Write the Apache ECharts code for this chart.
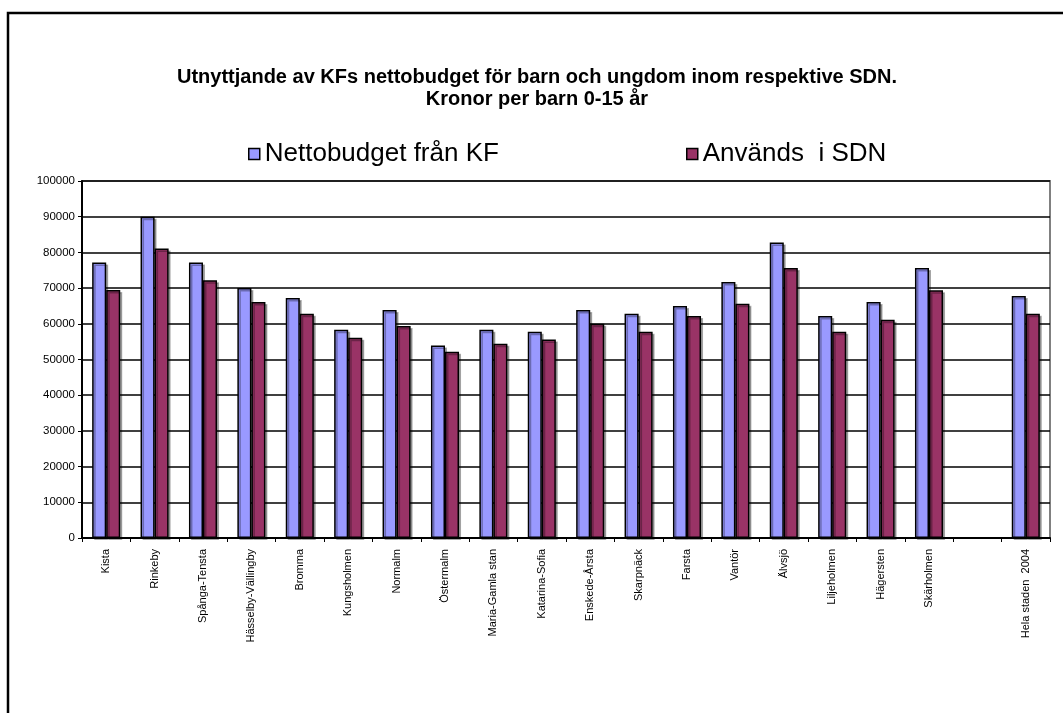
<!DOCTYPE html>
<html>
<head>
<meta charset="utf-8">
<script src="https://cdn.jsdelivr.net/npm/echarts@6/dist/echarts.min.js"></script>
<style>
  html, body { margin: 0; padding: 0; background: #fff; }
  #main { width: 1063px; height: 713px; }
</style>
</head>
<body>
<div id="main"></div>
<script>
// stadsdelar, sista före "Hela staden" är tom
var categories = ['Kista', 'Rinkeby', 'Spånga-Tensta', 'Hässelby-Vällingby', 'Bromma', 'Kungsholmen',
  'Normalm', 'Östermalm', 'Maria-Gamla stan', 'Katarina-Sofia', 'Enskede-Årsta', 'Skarpnäck',
  'Farsta', 'Vantör', 'Älvsjö', 'Liljeholmen', 'Hägersten', 'Skärholmen', '', 'Hela staden  2004'];

var nettobudget = [77200, 90000, 77200, 70000, 67200, 58300, 63900, 53900, 58300, 57800,
  63900, 62800, 65000, 71700, 82800, 62200, 66100, 75600, null, 67800];

var anvands = [69500, 81100, 72200, 66100, 62800, 56100, 59400, 52200, 54400, 55600,
  60000, 57800, 62200, 65600, 75600, 57800, 61100, 69400, null, 62800];

var yTicks = [0, 10000, 20000, 30000, 40000, 50000, 60000, 70000, 80000, 90000, 100000];

var fontFam = '"Liberation Sans", Arial, sans-serif';

var chart = echarts.init(document.getElementById('main'));

//stapel stil
function barStyle(color) {
  return {
    color: color,
    borderColor: '#000',
    borderWidth: 1.5,
    shadowColor: 'rgba(0,0,0,0.3)',
    shadowOffsetX: 2,
    shadowOffsetY: 2,
    shadowBlur: 0
  };
}

var option = {
  animation: false,
  textStyle: { fontFamily: fontFam },
  title: {
    text: 'Utnyttjande av KFs nettobudget för barn och ungdom inom respektive SDN.\nKronor per barn 0-15 år',
    left: 532,
    top: 61,
    textAlign: 'center',
    textStyle: {
      fontFamily: fontFam,
      fontSize: 20,
      fontWeight: 'bold',
      color: '#000',
      lineHeight: 22
    }
  },
  legend: [{
    left: 243, top: 136,
    itemWidth: 11, itemHeight: 11,
    icon: 'rect',
    selectedMode: false,
    data: [{ name: 'Nettobudget från KF', itemStyle: { borderColor: '#000', borderWidth: 1.5 } }],
    textStyle: { fontFamily: fontFam, fontSize: 26, color: '#000', padding: [3, 0, 0, 0] }
  }, {
    left: 681, top: 136,
    itemWidth: 11, itemHeight: 11,
    icon: 'rect',
    selectedMode: false,
    data: [{ name: 'Används  i SDN', itemStyle: { borderColor: '#000', borderWidth: 1.5 } }],
    textStyle: { fontFamily: fontFam, fontSize: 26, color: '#000', padding: [3, 0, 0, 0] }
  }],
  grid: {
    left: 82,
    right: 13,
    top: 181,
    bottom: 175,
    show: true,
    borderColor: '#808080',
    borderWidth: 2,
    backgroundColor: '#fff'
  },
  xAxis: {
    type: 'category',
    data: categories,
    axisLine: { lineStyle: { color: '#000', width: 2 } },
    axisTick: { show: true, alignWithLabel: false, length: 4, lineStyle: { color: '#000' } },
    axisLabel: {
      interval: 0,
      rotate: 90,
      margin: 11,
      fontSize: 11,
      color: '#000',
      fontFamily: fontFam
    }
  },
  yAxis: {
    type: 'value',
    min: yTicks[0],
    max: yTicks[yTicks.length - 1],
    interval: 10000,
    axisLine: { show: true, lineStyle: { color: '#000', width: 2 } },
    axisTick: { show: true, length: 4, lineStyle: { color: '#000' } },
    axisLabel: {
      fontSize: 11.5, color: '#000', margin: 7, fontFamily: fontFam,
      formatter: function (v) { return String(v); }
    },
    splitLine: { show: true, lineStyle: { color: '#000', width: 1.5 } }
  },
  series: [{
    name: 'Nettobudget från KF',
    type: 'bar',
    data: nettobudget,
    barGap: '0%',
    barCategoryGap: '42%',
    itemStyle: barStyle('#9999FF')
  }, {
    name: 'Används  i SDN',
    type: 'bar',
    data: anvands,
    itemStyle: barStyle('#993366')
  }],
  graphic: [{
    type: 'rect',
    shape: { x: 8, y: 13, width: 1200, height: 900 },
    style: { fill: null, stroke: '#000', lineWidth: 2.5 },
    silent: true
  }]
};

chart.setOption(option);
</script>
</body>
</html>
